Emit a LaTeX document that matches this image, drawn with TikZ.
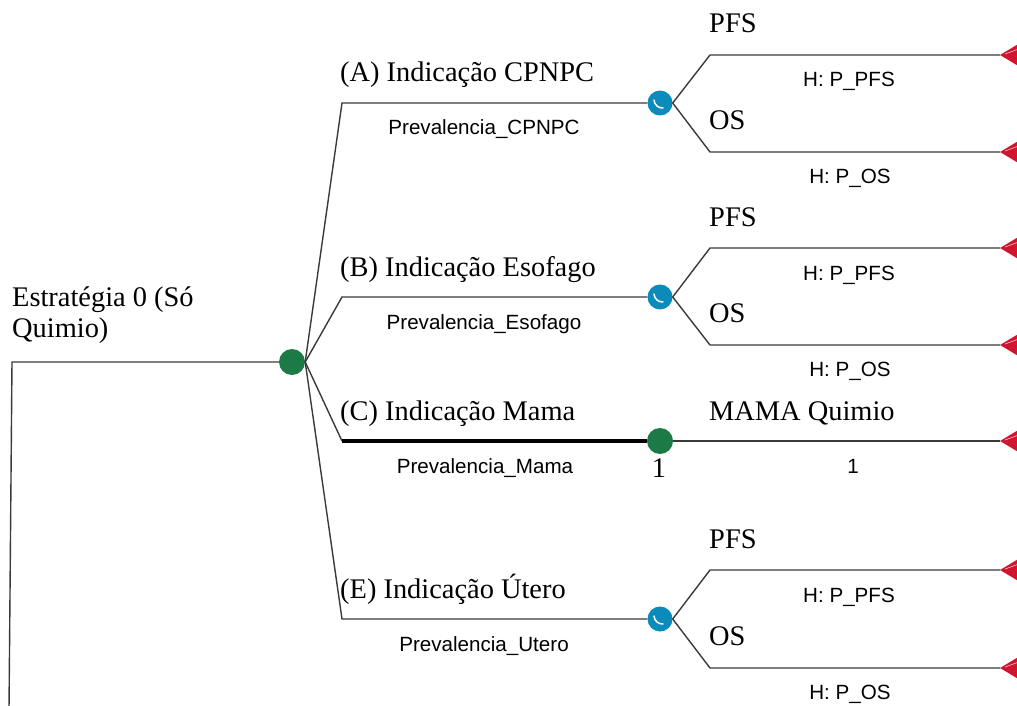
\documentclass[tikz,border=0pt]{standalone}
\usepackage{fontspec}
\setmainfont{Liberation Serif}
\setsansfont{Liberation Sans}
\usetikzlibrary{calc}
\definecolor{chanceblue}{HTML}{0B8BBA}
\definecolor{decgreen}{HTML}{1B7A45}
\definecolor{termred}{HTML}{D01530}
\definecolor{linegray}{HTML}{3A3A3A}
\begin{document}
\begin{tikzpicture}[x=1pt,y=-1pt,
  branch/.style={draw=linegray, line width=1.4pt},
  thickbranch/.style={draw=black, line width=4pt},
  chance/.style={circle, fill=chanceblue, minimum size=25pt, inner sep=0pt,
    path picture={\draw[white, line width=1.5pt, line cap=round]
      ([xshift=-6pt,yshift=3pt]path picture bounding box.center) to[bend right=45]
      ([xshift=3pt,yshift=-5pt]path picture bounding box.center);}},
  decision/.style={circle, fill=decgreen, minimum size=26pt, inner sep=0pt},
  serifl/.style={font=\fontsize{28.4}{32}\selectfont, inner sep=0pt},
  sansl/.style={font=\sffamily\fontsize{20.6}{24}\selectfont, inner sep=0pt},
]
\useasboundingbox (0,0) rectangle (1017,706);
\clip (0,0) rectangle (1017,706);

% root
\coordinate (root) at (12,362);
\coordinate (rootdown) at (9,710);
\node[decision] (d0) at (292,362) {};
\draw[branch] (rootdown) -- (root) -- (d0);
\node[serifl, anchor=base west] (rl1) at (12,306) {Estratégia 0 (Só};
\node[serifl, anchor=base west] (rl2) at (12,337) {Quimio)};

% branch corners
\coordinate (kA) at (342,103);
\coordinate (kB) at (342,297);
\coordinate (kC) at (342,441);
\coordinate (kE) at (342,619);

\node[chance] (cA) at (660,103) {};
\node[chance] (cB) at (660,297) {};
\node[decision] (dC) at (660,441) {};
\node[chance] (cE) at (660,619) {};

\draw[branch] (d0.east) -- (kA) -- (cA);
\draw[branch] (d0.east) -- (kB) -- (cB);
\draw[branch] (d0.east) -- (kC);
\draw[thickbranch] (kC) -- (dC);
\draw[branch] (d0.east) -- (kE) -- (cE);

\node[serifl, anchor=base west] (lA) at (340,82) {(A) Indicação CPNPC};
\node[serifl, anchor=base west] (lB) at (340,276) {(B) Indicação Esofago};
\node[serifl, anchor=base west] (lC) at (340,420) {(C) Indicação Mama};
\node[serifl, anchor=base west] (lE) at (340,598) {(E) Indicação Útero};

\node[sansl, anchor=base] (pA) at (484,135) {Prevalencia\_CPNPC};
\node[sansl, anchor=base] (pB) at (484,329) {Prevalencia\_Esofago};
\node[sansl, anchor=base] (pC) at (485,473) {Prevalencia\_Mama};
\node[sansl, anchor=base] (pE) at (484,651) {Prevalencia\_Utero};
\node[serifl, anchor=base] (oneC) at (659,477) {1};

% terminal triangles
\foreach \n/\yy in {A1/55,A2/152,B1/248,B2/345,C1/441,E1/570,E2/668}{
  \coordinate (t\n) at (1000,\yy);
  \fill[termred] (t\n) -- ++(40,-24) -- ++(0,48) -- cycle;
  \draw[white!75!termred, line width=0.6pt] ($(t\n)+(5,-1)$) -- ++(25,-9);
}

% sub-branches
\foreach \c/\k/\yu/\yl in {cA/A/55/152, cB/B/248/345, cE/E/570/668}{
  \coordinate (u\k) at (710,\yu);
  \coordinate (l\k) at (710,\yl);
  \draw[branch] (\c.east) -- (u\k) -- (t\k1);
  \draw[branch] (\c.east) -- (l\k) -- (t\k2);
  \node[serifl, anchor=base west] (pfs\k) at (709,\yu-22) {PFS};
  \node[serifl, anchor=base west] (os\k) at (709,\yl-23) {OS};
  \node[sansl, anchor=base] (hp\k) at (849,\yu+32) {H: P\_PFS};
  \node[sansl, anchor=base] (ho\k) at (850,\yl+31) {H: P\_OS};
}

\draw[branch] (dC) -- (tC1);
\node[serifl, anchor=base west] (mq) at (709,420) {MAMA Quimio};
\node[sansl, anchor=base] (oneT) at (853,473) {1};
\end{tikzpicture}
\end{document}
